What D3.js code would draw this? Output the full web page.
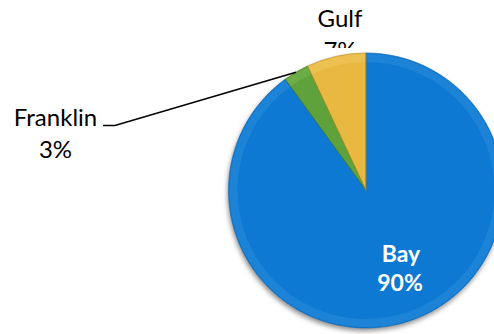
<!DOCTYPE html>
<html><head><meta charset="utf-8">
<script src="https://cdn.jsdelivr.net/npm/d3@7"></script>
<style>html,body{margin:0;padding:0;background:#fff;}svg{display:block;}</style>
</head><body>
<svg id="chart" width="494" height="334"></svg>
<script>
const categories = ["Bay", "Franklin", "Gulf"];
const values = [90, 3, 7];
const percentLabels = ["90%", "3%", "7%"];
const colors = ["#0B79D2", "#5FA23A", "#E8B83F"];
const rimColors = ["#3C97E2", "#86C45E", "#F6D273"];
const edgeColors = ["#0A5FA6", "#3F7A22", "#B98E25"];

const W = 494, H = 334;
const cx = 366, cy = 190.5, R = 137.5;
const FONT = "Lato, 'Open Sans', 'Liberation Sans', sans-serif";

const svg = d3.select("#chart");
const defs = svg.append("defs");

const shadow = defs.append("filter").attr("id", "shadow")
  .attr("x", "-20%").attr("y", "-20%").attr("width", "140%").attr("height", "140%");
shadow.append("feDropShadow").attr("dx", -1).attr("dy", 3).attr("stdDeviation", 2.5)
  .attr("flood-color", "#000").attr("flood-opacity", 0.45);

const data = categories.map((c, i) => ({ name: c, value: values[i], pct: percentLabels[i], i }));
const pie = d3.pie().value(d => d.value).sort(null).startAngle(0).endAngle(2 * Math.PI);
const arcs = pie(data);
const arc = d3.arc().innerRadius(0).outerRadius(R);
const edgeArc = d3.arc().innerRadius(R).outerRadius(R);

// Gulf label (partly hidden, as in the reference)
defs.append("clipPath").attr("id", "gulfClip").append("rect")
  .attr("x", 0).attr("y", 0).attr("width", W).attr("height", 48);

const gulf = arcs[2];
const gG = svg.append("g").attr("font-family", FONT).attr("font-size", 24).attr("fill", "#000")
  .attr("text-anchor", "middle");
gG.append("text").attr("x", 340).attr("y", 27).text(gulf.data.name);
gG.append("text").attr("x", 340).attr("y", 59).attr("clip-path", "url(#gulfClip)").text(gulf.data.pct);

// Pie
const pieG = svg.append("g").attr("transform", `translate(${cx},${cy})`);
pieG.append("g").attr("filter", "url(#shadow)")
  .selectAll("path").data(arcs).join("path")
  .attr("d", arc)
  .attr("fill", d => colors[d.data.i]);
pieG.append("g").selectAll("path").data(arcs).join("path")
  .attr("d", d3.arc().innerRadius(R - 9).outerRadius(R - 1))
  .attr("fill", d => rimColors[d.data.i]).attr("opacity", 0.35);
pieG.append("g").selectAll("path").data(arcs).join("path")
  .attr("d", arc).attr("fill", "none")
  .attr("stroke", d => edgeColors[d.data.i]).attr("stroke-width", 1).attr("stroke-opacity", 0.6);

// Franklin label with leader line
const fr = arcs[1];
const [ex, ey] = edgeArc.centroid(fr);
svg.append("path")
  .attr("d", d3.line()([[103, 125.5], [115, 125.5], [cx + ex, cy + ey]]))
  .attr("fill", "none").attr("stroke", "#000").attr("stroke-width", 1.6);
const frG = svg.append("g").attr("font-family", FONT).attr("font-size", 24).attr("fill", "#000")
  .attr("text-anchor", "middle");
frG.append("text").attr("x", 55.5).attr("y", 126).text(fr.data.name);
frG.append("text").attr("x", 55.5).attr("y", 158).text(fr.data.pct);

// Bay label
const bay = arcs[0];
const bG = svg.append("g").attr("font-family", FONT).attr("font-size", 23).attr("font-weight", "bold")
  .attr("fill", "#fff").attr("text-anchor", "middle");
bG.append("text").attr("x", 401).attr("y", 262).text(bay.data.name);
bG.append("text").attr("x", 400).attr("y", 291).text(bay.data.pct);
</script>
</body></html>
